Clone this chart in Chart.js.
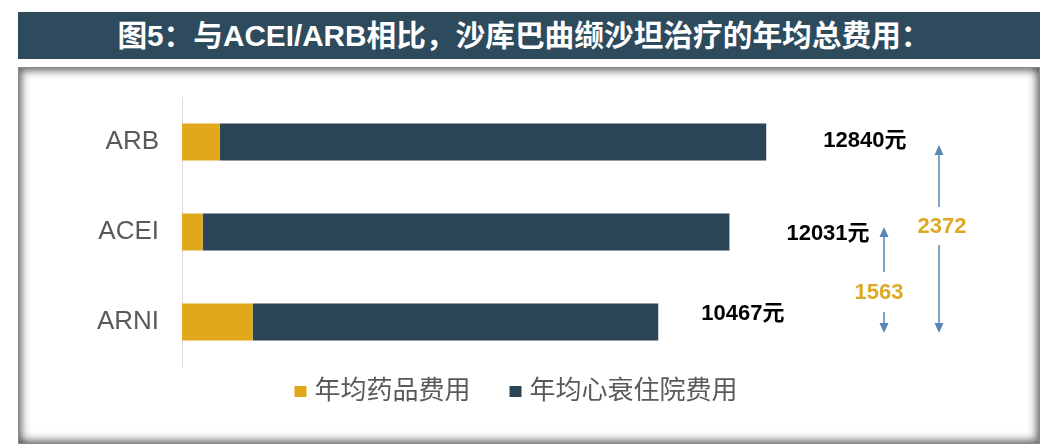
<!DOCTYPE html>
<html>
<head>
<meta charset="utf-8">
<script src="https://cdn.jsdelivr.net/npm/chart.js@4"></script>
<style>
  html, body { margin: 0; padding: 0; background: #ffffff; width: 1055px; height: 448px; overflow: hidden; }
  #title {
    position: absolute; left: 18px; top: 12px; width: 1022px; height: 47px;
    background: #2E4A5D; color: #ffffff;
    font: bold 29.7px "Liberation Sans", "Noto Sans CJK SC", sans-serif;
    line-height: 47px; text-align: center; padding-right: 10px; box-sizing: border-box;
  }
  #panel {
    position: absolute; left: 18px; top: 67px; width: 1022px; height: 377px;
    background: #ffffff; box-sizing: border-box; border: 1px solid #8a8a8a;
    box-shadow: inset 3px 3px 8px rgba(0,0,0,0.5), inset -3px -3px 8px rgba(0,0,0,0.5);
  }
  #c { position: absolute; left: 18px; top: 67px; }
</style>
</head>
<body>
<div id="title">图5：与ACEI/ARB相比，沙库巴曲缬沙坦治疗的年均总费用：</div>
<div id="panel"></div>
<canvas id="c" width="1022" height="377"></canvas>
<script>
// ---- data ----
const categories = ['ARB', 'ACEI', 'ARNI'];
const drugCost = [827, 453, 1552];          // 年均药品费用
const hospCost = [12013, 11578, 8915];      // 年均心衰住院费用
const seriesNames = ['年均药品费用', '年均心衰住院费用'];
const diffLabels = ['1563', '2372'];        // ACEI-ARNI, ARB-ARNI
const xMax = 18000;

const COLORS = ['#E1A91A', '#2C4556'];
const FONT = '"Liberation Sans", "Noto Sans CJK SC", sans-serif';

const annotations = {
  id: 'annotations',
  afterDatasetsDraw(chart) {
    const ctx = chart.ctx;
    const xs = chart.scales.x, ys = chart.scales.y;
    const ca = chart.chartArea;
    ctx.save();
    // total labels
    const dx = [57, 57, 43], dy = [-1, 2, -8];
    ctx.font = 'bold 22px ' + FONT;
    ctx.fillStyle = '#000000';
    ctx.textAlign = 'left';
    ctx.textBaseline = 'middle';
    categories.forEach((c, i) => {
      const total = drugCost[i] + hospCost[i];
      const x = xs.getPixelForValue(total) + dx[i];
      const y = ys.getPixelForValue(i) + dy[i];
      ctx.fillText(total + '元', x, y);
    });
    // arrows
    const yARB = ys.getPixelForValue(0), yACEI = ys.getPixelForValue(1), yARNI = ys.getPixelForValue(2);
    const arrows = [
      { x: ca.right - 117, top: yACEI - 5, bottom: yARNI + 11, gapTop: yARNI - 50, gapBot: yARNI - 10, text: diffLabels[0], tx: -5 },
      { x: ca.right - 62, top: yARB + 3, bottom: yARNI + 11, gapTop: yACEI - 25, gapBot: yACEI + 13, text: diffLabels[1], tx: 3 }
    ];
    arrows.forEach(a => {
      ctx.strokeStyle = '#5A86B5';
      ctx.fillStyle = '#5A86B5';
      ctx.lineWidth = 1.5;
      const head = 10, hw = 4.5;
      ctx.beginPath();
      ctx.moveTo(a.x, a.top + head); ctx.lineTo(a.x, a.gapTop);
      ctx.moveTo(a.x, a.gapBot); ctx.lineTo(a.x, a.bottom - head);
      ctx.stroke();
      ctx.beginPath();
      ctx.moveTo(a.x, a.top); ctx.lineTo(a.x - hw, a.top + head); ctx.lineTo(a.x + hw, a.top + head); ctx.closePath(); ctx.fill();
      ctx.beginPath();
      ctx.moveTo(a.x, a.bottom); ctx.lineTo(a.x - hw, a.bottom - head); ctx.lineTo(a.x + hw, a.bottom - head); ctx.closePath(); ctx.fill();
      ctx.fillStyle = '#DDA927';
      ctx.font = 'bold 22px ' + FONT;
      ctx.textAlign = 'center';
      ctx.textBaseline = 'middle';
      ctx.fillText(a.text, a.x + a.tx, (a.gapTop + a.gapBot) / 2 + 1);
    });
    ctx.restore();
  }
};

const customLegend = {
  id: 'customLegend',
  afterDraw(chart) {
    const ctx = chart.ctx;
    ctx.save();
    ctx.font = '26px ' + FONT;
    ctx.textBaseline = 'middle';
    ctx.textAlign = 'left';
    const box = 12, boxGap = 8, itemGap = 39;
    const widths = seriesNames.map(t => box + boxGap + ctx.measureText(t).width);
    const total = widths.reduce((a, b) => a + b, 0) + itemGap * (seriesNames.length - 1);
    let x = chart.width / 2 - 13 - total / 2;
    const y = chart.chartArea.bottom + 25;
    seriesNames.forEach((t, i) => {
      ctx.fillStyle = COLORS[i];
      ctx.fillRect(x, y - 6, box, 11);
      ctx.fillStyle = '#595959';
      ctx.fillText(t, x + box + boxGap, y);
      x += widths[i] + itemGap;
    });
    ctx.restore();
  }
};

new Chart(document.getElementById('c'), {
  type: 'bar',
  data: {
    labels: categories,
    datasets: [
      { label: seriesNames[0], data: drugCost, backgroundColor: COLORS[0] },
      { label: seriesNames[1], data: hospCost, backgroundColor: COLORS[1] }
    ]
  },
  options: {
    indexAxis: 'y',
    responsive: false,
    animation: false,
    devicePixelRatio: 1,
    datasets: { bar: { categoryPercentage: 1, barPercentage: 0.41 } },
    layout: { padding: { left: 0, top: 30, right: 39, bottom: 77 } },
    plugins: { legend: { display: false }, tooltip: { enabled: false }, title: { display: false } },
    scales: {
      x: { stacked: true, min: 0, max: xMax, display: false },
      y: {
        stacked: true,
        grid: { display: false, drawTicks: false },
        border: { display: true, color: '#D9D9D9', width: 1 },
        ticks: { color: '#595959', padding: 23, font: { family: FONT, size: 26 } },
        afterFit(s) { s.width = 164; s.paddingTop = 0; s.paddingBottom = 0; }
      }
    }
  },
  plugins: [annotations, customLegend]
});
</script>
</body>
</html>
